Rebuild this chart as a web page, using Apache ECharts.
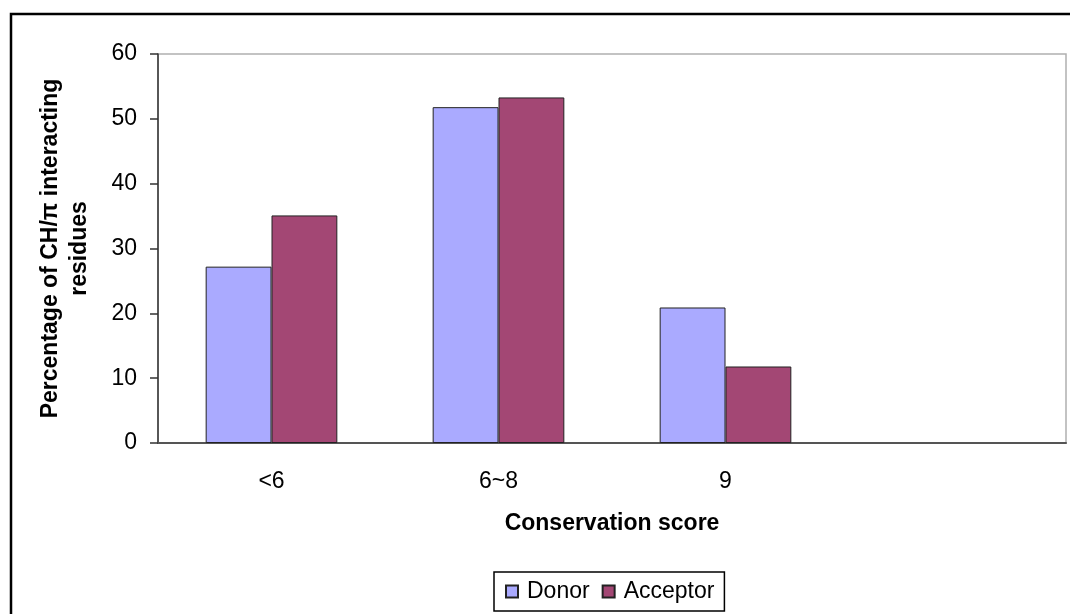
<!DOCTYPE html>
<html><head><meta charset="utf-8">
<script src="https://cdn.jsdelivr.net/npm/echarts@6/dist/echarts.min.js"></script>
<style>html,body{margin:0;padding:0;background:#fff}#c{width:1070px;height:614px}</style>
</head><body><div id="c"></div>
<script>
const categories = ['<6', '6~8', '9', ''];
const donor = [27.2, 51.8, 20.9, null];
const acceptor = [35.1, 53.3, 11.8, null];
const yTicks = [0, 10, 20, 30, 40, 50, 60];

const chart = echarts.init(document.getElementById('c'));
const F = '"Liberation Sans", Arial, sans-serif';
chart.setOption({
  animation: false,
  backgroundColor: '#fff',
  textStyle: { fontFamily: F },
  graphic: [{
    type: 'rect', shape: { x: 11, y: 14, width: 1070, height: 620 },
    style: { fill: 'none', stroke: '#000', lineWidth: 2.5 }, silent: true
  }],
  grid: { left: 158, top: 54, right: 4, bottom: 171, show: true, borderColor: '#b0b0b0', borderWidth: 1.5, backgroundColor: 'transparent' },
  legend: {
    data: ['Donor', 'Acceptor'], bottom: 3, left: 494,
    icon: 'rect', itemWidth: 12, itemHeight: 12, itemGap: 12,
    borderColor: '#000', borderWidth: 1.5, padding: [8, 10, 8, 11],
    textStyle: { fontFamily: F, fontSize: 23, color: '#000', padding: [0, 0, 0, 4] }
  },
  xAxis: {
    type: 'category', data: categories,
    name: 'Conservation score', nameLocation: 'middle', nameGap: 69,
    nameTextStyle: { fontFamily: F, fontSize: 23, fontWeight: 'bold', color: '#000' },
    axisLine: { lineStyle: { color: '#555', width: 2 } },
    axisTick: { length: 6, lineStyle: { color: '#333', width: 1.5 } },
    axisLabel: { fontFamily: F, fontSize: 23, color: '#000', margin: 27 }
  },
  yAxis: {
    type: 'value', min: 0, max: 60, interval: 10,
    name: 'Percentage of CH/π interacting\nresidues', nameLocation: 'middle', nameRotate: 90, nameGap: 64,
    nameTextStyle: { fontFamily: F, fontSize: 23, fontWeight: 'bold', color: '#000', lineHeight: 29 },
    axisLine: { show: true, lineStyle: { color: '#333', width: 1.5 } },
    axisTick: { show: true, length: 8, lineStyle: { color: '#333', width: 1.5 } },
    axisLabel: { fontFamily: F, fontSize: 23, color: '#000', margin: 21,
      formatter: v => yTicks.includes(v) ? String(v) : '' },
    splitLine: { show: false }
  },
  series: [
    { name: 'Donor', type: 'bar', data: donor, barGap: '0%', barCategoryGap: '42%',
      itemStyle: { color: '#aaaaff', borderColor: '#222', borderWidth: 1 } },
    { name: 'Acceptor', type: 'bar', data: acceptor,
      itemStyle: { color: '#a34774', borderColor: '#222', borderWidth: 1 } }
  ]
});
</script></body></html>
